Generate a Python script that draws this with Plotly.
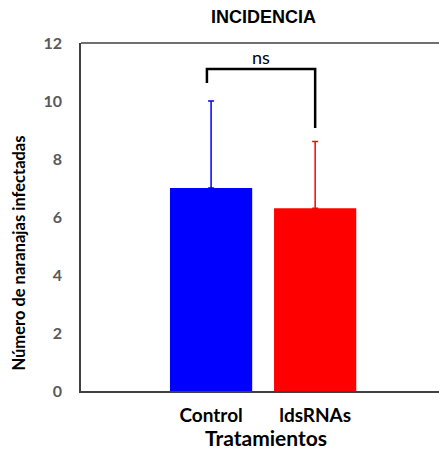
import plotly.graph_objects as go

categories = ["Control", "ldsRNAs"]
means = [7.0, 6.3]
err_up = [3.0, 2.3]
colors = ["#0000FF", "#FF0000"]
y_ticks = [0, 2, 4, 6, 8, 10, 12]
title_text = "INCIDENCIA"
x_title = "Tratamientos"
y_title = "Número de naranajas infectadas"
sig_label = "ns"
bracket_y = [10.62, 11.1, 9.07]   # left foot, top, right foot

x_pos = list(range(len(categories)))

# pixel geometry of the plot area
L, R, T, B = 81, 439, 43, 391
W, H = R - L, B - T


def px(xp):
    return (xp - L) / W


def py(yp):
    return (B - yp) / H


fig = go.Figure()
for i, c in enumerate(categories):
    fig.add_trace(go.Bar(
        x=[x_pos[i]], y=[means[i]], width=0.79,
        marker=dict(color=colors[i], line=dict(width=0)),
        error_y=dict(type="data", symmetric=False, array=[err_up[i]], arrayminus=[0],
                     color=colors[i], thickness=1.5, width=3),
        showlegend=False, hoverinfo="skip",
    ))

# significance bracket as a path shape in data coordinates
xl, xr = x_pos[0] - 0.04, x_pos[1]
path = "M %f,%f L %f,%f L %f,%f L %f,%f" % (xl, bracket_y[0], xl, bracket_y[1],
                                            xr, bracket_y[1], xr, bracket_y[2])
fig.add_shape(type="path", path=path, xref="x", yref="y",
              line=dict(color="black", width=2.5))
fig.add_annotation(x=(x_pos[0] + x_pos[1]) / 2 - 0.02, y=bracket_y[1], text=sig_label,
                   showarrow=False, yanchor="bottom", yshift=-1,
                   font=dict(family="Lato", size=18, color="black"))

# top border line
fig.add_shape(type="line", xref="paper", yref="paper", x0=0, x1=1, y0=1, y1=1,
              line=dict(color="#404040", width=1.5))

# titles as annotations
fig.add_annotation(xref="paper", yref="paper", x=px(263), y=py(17), text="<b>" + title_text + "</b>",
                   showarrow=False, xanchor="center", yanchor="middle",
                   font=dict(family="Liberation Sans", size=18, color="black"))
fig.add_annotation(xref="paper", yref="paper", x=px(266), y=py(437), text="<b>" + x_title + "</b>",
                   showarrow=False, xanchor="center", yanchor="middle",
                   font=dict(family="Lato", size=21, color="black"))
fig.add_annotation(xref="paper", yref="paper", x=px(18), y=py(373), text="<b>" + y_title + "</b>",
                   showarrow=False, xanchor="center", yanchor="bottom", textangle=-90,
                   font=dict(family="Lato", size=16.5, color="black"))

fig.update_layout(
    width=439, height=450,
    margin=dict(l=L, r=439 - R, t=T, b=450 - B),
    plot_bgcolor="white", paper_bgcolor="white",
    barmode="overlay",
    xaxis=dict(
        range=[-1.25, 2.19], tickvals=x_pos,
        ticktext=["<b>" + c + "</b>" for c in categories],
        tickfont=dict(family="Lato", size=19, color="black"),
        showline=True, linecolor="#404040", linewidth=1.5, mirror=False,
        showgrid=False, zeroline=False,
        ticks="outside", ticklen=6, tickcolor="rgba(0,0,0,0)",
    ),
    yaxis=dict(
        range=[0, 12], tickvals=y_ticks,
        ticktext=["<b>%d</b>" % v for v in y_ticks],
        tickfont=dict(family="Lato", size=16, color="#595959"),
        showline=True, linecolor="#404040", linewidth=1.5, mirror=False,
        showgrid=False, zeroline=False,
        ticks="outside", ticklen=14, tickcolor="rgba(0,0,0,0)",
    ),
)

fig.write_html("out.html")
